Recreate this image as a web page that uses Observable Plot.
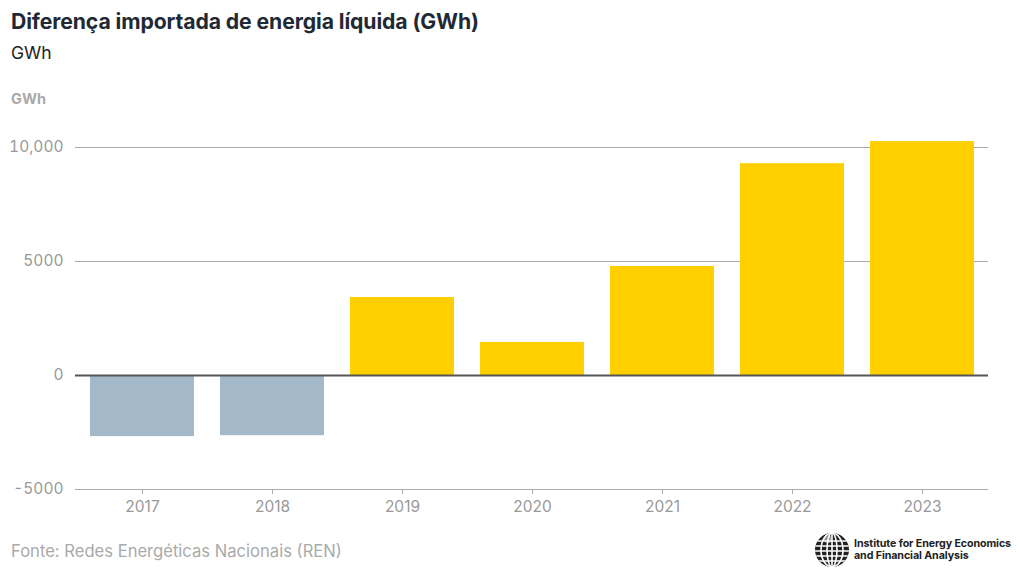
<!DOCTYPE html>
<html>
<head>
<meta charset="utf-8">
<script src="https://cdn.jsdelivr.net/npm/d3@7"></script>
<script src="https://cdn.jsdelivr.net/npm/@observablehq/plot@0.6"></script>
<style>
  html, body { margin: 0; padding: 0; background: #fff; width: 1020px; height: 583px; overflow: hidden; font-family: Inter, "Noto Sans", sans-serif; }
  #title { position: absolute; left: 11px; top: 8px; font-size: 21.2px; font-weight: 700; color: #1f2933; letter-spacing: -0.1px; }
  #subtitle { position: absolute; left: 11px; top: 42px; font-size: 17.5px; color: #222; }
  #ylabel { position: absolute; left: 11px; top: 90px; font-size: 14.5px; font-weight: 700; color: #aaa; z-index: 2; }
  #chart { position: absolute; left: 0; top: 75px; z-index: 1; }
  #source { position: absolute; left: 11px; top: 541px; font-size: 16.6px; color: #aaa; }
  #logo { position: absolute; left: 814px; top: 532px; display: flex; align-items: center; }
  #logo .txt { font-size: 10.7px; font-weight: 700; color: #222; line-height: 12px; margin-left: 4px; letter-spacing: -0.1px; }
</style>
</head>
<body>
<div id="title">Diferença importada de energia líquida (GWh)</div>
<div id="subtitle">GWh</div>
<div id="ylabel">GWh</div>
<div id="chart"></div>
<div id="source">Fonte: Redes Energéticas Nacionais (REN)</div>
<div id="logo">
  <svg width="36" height="36" viewBox="0 0 36 36">
    <defs><clipPath id="cp"><circle cx="18" cy="18" r="17"/></clipPath></defs>
    <circle cx="18" cy="18" r="17" fill="#222"/>
    <g clip-path="url(#cp)" stroke="#fff" stroke-width="1.6" fill="none">
      <ellipse cx="18" cy="18" rx="5" ry="17"/>
      <ellipse cx="18" cy="18" rx="11" ry="17"/>
      <line x1="18" y1="0" x2="18" y2="36"/>
      <line x1="0" y1="9" x2="36" y2="9"/>
      <line x1="0" y1="14" x2="36" y2="14"/>
      <line x1="0" y1="19" x2="36" y2="19"/>
      <line x1="0" y1="24" x2="36" y2="24"/>
      <line x1="0" y1="29" x2="36" y2="29"/>
    </g>
    <circle cx="14" cy="7" r="4" fill="#fff" opacity="0.5"/>
  </svg>
  <div class="txt">Institute for Energy Economics<br>and Financial Analysis</div>
</div>
<script>
const years = ["2017", "2018", "2019", "2020", "2021", "2022", "2023"];
const values = [-2680, -2640, 3420, 1450, 4780, 9290, 10260];
const yTicks = [-5000, 0, 5000, 10000];
const yTickLabels = ["-5000", "0", "5000", "10,000"];
const gridTicks = [5000, 10000];

const data = years.map((year, i) => ({ year, value: values[i] }));

const chart = Plot.plot({
  width: 1020,
  height: 444,
  marginLeft: 75,
  marginRight: 32,
  marginTop: 0,
  marginBottom: 30,
  style: { fontFamily: "Inter, 'Noto Sans', sans-serif", fontSize: "15px", color: "#999", background: "transparent" },
  x: { domain: years, paddingInner: 0.2, paddingOuter: 0.1, label: null },
  y: { domain: [-5000, 10000], range: [414, 72], label: null },
  marks: [
    Plot.ruleY(gridTicks, { stroke: "#aaa", strokeWidth: 1 }),
    Plot.ruleY([-5000], { stroke: "#aaa", strokeWidth: 1 }),
    Plot.barY(data, { x: "year", y: "value", fill: d => d.value < 0 ? "#a3b8c9" : "#ffcf00" }),
    Plot.ruleY([0], { stroke: "#555", strokeWidth: 2 }),
    Plot.axisX({ tickSize: 5, tickPadding: 6, stroke: "#aaa", fill: "#999", fontSize: 15.5, label: null }),
    Plot.axisY({ ticks: yTicks, tickSize: 0, tickPadding: 12, fill: "#999", fontSize: 15.5, label: null,
      tickFormat: d => yTickLabels[yTicks.indexOf(d)] })
  ]
});
document.getElementById("chart").appendChild(chart);
</script>
</body>
</html>
